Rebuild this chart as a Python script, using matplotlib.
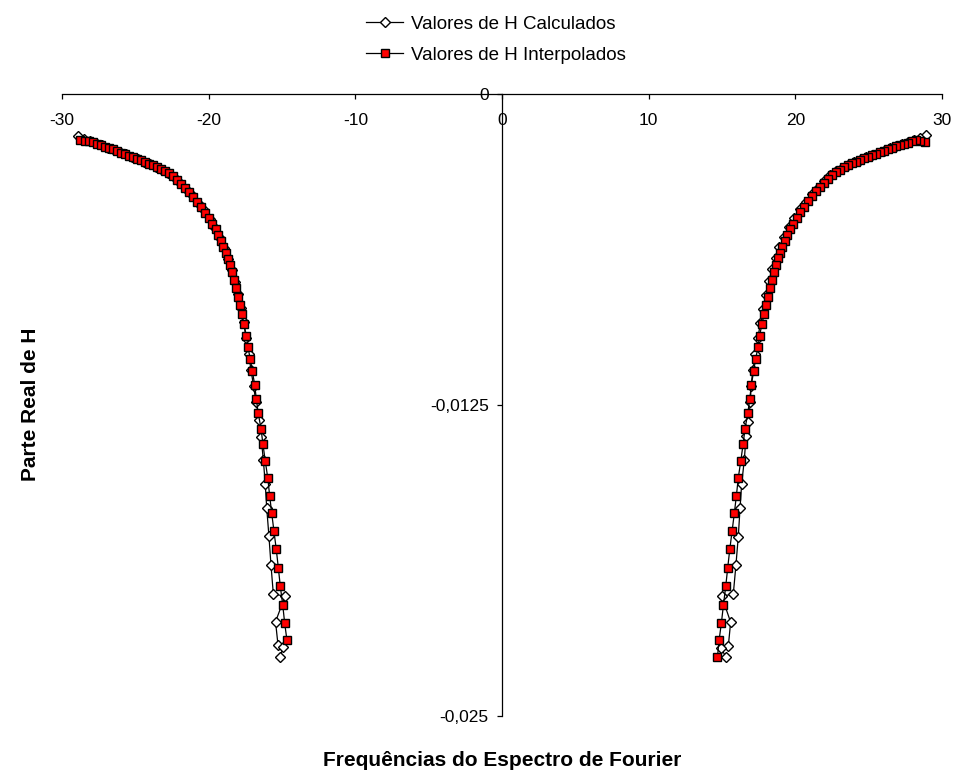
import matplotlib.pyplot as plt

plt.rcParams['font.family'] = ['Liberation Sans', 'DejaVu Sans']
plt.rcParams['axes.unicode_minus'] = False

# Valores de H Calculados (diamantes) - lado negativo e positivo
calc_neg_x = [-28.91, -28.50, -28.09, -27.68, -27.27, -26.86, -26.45, -26.04, -25.63, -25.23,
              -24.82, -24.41, -24.00, -23.59, -23.18, -22.77, -22.36, -21.95, -21.54, -21.13,
              -20.72, -20.32, -19.91, -19.57, -19.23, -18.92, -18.65, -18.41, -18.20, -18.00,
              -17.80, -17.62, -17.45, -17.28, -17.11, -16.94, -16.77, -16.55, -16.43, -16.27,
              -16.14, -16.04, -15.89, -15.75, -15.59, -14.79, -15.44, -15.27, -14.93, -15.12]
calc_neg_y = [-1.688, -1.800, -1.885, -1.965, -2.060, -2.150, -2.250, -2.345, -2.430, -2.525,
              -2.625, -2.720, -2.820, -2.925, -3.040, -3.180, -3.330, -3.560, -3.810, -4.070,
              -4.370, -4.670, -5.030, -5.390, -5.790, -6.190, -6.632, -7.074, -7.556, -8.039,
              -8.601, -9.164, -9.807, -10.45, -11.09, -11.74, -12.38, -13.10, -13.77, -14.71,
              -15.69, -16.65, -17.77, -18.93, -20.10, -20.18, -21.21, -22.15, -22.23, -22.63]

calc_pos_x = [28.91, 28.50, 28.09, 27.68, 27.27, 26.86, 26.45, 26.05, 25.64, 25.23,
              24.82, 24.41, 24.00, 23.59, 23.18, 22.77, 22.36, 21.95, 21.54, 21.14,
              20.73, 20.32, 19.91, 19.57, 19.23, 18.92, 18.65, 18.41, 18.20, 18.00,
              17.80, 17.62, 17.45, 17.28, 17.11, 16.98, 16.94, 16.79, 16.64, 16.52,
              16.34, 16.23, 16.11, 15.95, 15.77, 14.98, 15.59, 15.43, 14.90, 15.27]
calc_pos_y = [-1.65, -1.78, -1.86, -1.92, -1.99, -2.08, -2.17, -2.27, -2.36, -2.46,
              -2.55, -2.65, -2.75, -2.86, -2.97, -3.10, -3.26, -3.50, -3.76, -4.03,
              -4.32, -4.62, -4.98, -5.34, -5.74, -6.15, -6.59, -7.03, -7.52, -8.06,
              -8.62, -9.20, -9.80, -10.44, -11.08, -11.72, -12.38, -13.17, -13.75, -14.71,
              -15.68, -16.65, -17.79, -18.93, -20.10, -20.18, -21.23, -22.19, -22.25, -22.62]

# Valores de H Interpolados (quadrados)
interp_neg_x = [-28.77, -28.43, -28.16, -27.89, -27.61, -27.34, -27.07, -26.79, -26.52, -26.25,
                -25.98, -25.70, -25.43, -25.16, -24.89, -24.61, -24.34, -24.07, -23.80, -23.52,
                -23.25, -22.98, -22.70, -22.43, -22.16, -21.89, -21.61, -21.34, -21.07, -20.80,
                -20.52, -20.25, -19.98, -19.74, -19.53, -19.33, -19.16, -18.99, -18.82, -18.66,
                -18.52, -18.41, -18.27, -18.16, -18.02, -17.88, -17.75, -17.59, -17.43, -17.32,
                -17.16, -17.02, -16.86, -16.75, -16.62, -16.43, -16.30, -16.14, -15.97, -15.84,
                -15.70, -15.55, -15.39, -15.25, -15.12, -14.95, -14.82, -14.66]
interp_neg_y = [-1.849, -1.869, -1.897, -1.941, -1.994, -2.050, -2.110, -2.162, -2.223, -2.291,
                -2.355, -2.420, -2.480, -2.540, -2.605, -2.665, -2.725, -2.793, -2.862, -2.934,
                -3.002, -3.095, -3.175, -3.276, -3.436, -3.597, -3.758, -3.939, -4.120, -4.321,
                -4.542, -4.763, -4.984, -5.205, -5.426, -5.667, -5.888, -6.129, -6.371, -6.612,
                -6.873, -7.142, -7.476, -7.810, -8.147, -8.481, -8.842, -9.256, -9.715, -10.18,
                -10.66, -11.13, -11.70, -12.26, -12.83, -13.45, -14.07, -14.75, -15.43, -16.15,
                -16.85, -17.56, -18.30, -19.04, -19.76, -20.53, -21.25, -21.96]

interp_pos_x = [28.84, 28.50, 28.22, 27.95, 27.68, 27.41, 27.13, 26.86, 26.59, 26.32,
                26.04, 25.77, 25.50, 25.23, 24.95, 24.68, 24.41, 24.14, 23.87, 23.59,
                23.32, 23.05, 22.78, 22.51, 22.24, 21.97, 21.70, 21.43, 21.16, 20.89,
                20.62, 20.35, 20.09, 19.86, 19.65, 19.45, 19.28, 19.12, 18.95, 18.79,
                18.65, 18.54, 18.40, 18.29, 18.15, 18.01, 17.88, 17.72, 17.56, 17.45,
                17.29, 17.16, 17.00, 16.89, 16.76, 16.57, 16.44, 16.28, 16.11, 15.98,
                15.84, 15.69, 15.53, 15.39, 15.26, 15.10, 14.96, 14.80, 14.69]
interp_pos_y = [-1.93, -1.87, -1.86, -1.90, -1.95, -2.00, -2.05, -2.10, -2.16, -2.22,
                -2.28, -2.34, -2.40, -2.46, -2.52, -2.58, -2.65, -2.72, -2.79, -2.87,
                -2.95, -3.04, -3.14, -3.25, -3.40, -3.56, -3.73, -3.91, -4.10, -4.31,
                -4.53, -4.76, -4.99, -5.21, -5.43, -5.67, -5.89, -6.13, -6.37, -6.61,
                -6.87, -7.14, -7.48, -7.81, -8.15, -8.48, -8.84, -9.26, -9.72, -10.18,
                -10.66, -11.13, -11.70, -12.26, -12.83, -13.45, -14.07, -14.75, -15.43, -16.15,
                -16.85, -17.56, -18.30, -19.04, -19.76, -20.53, -21.25, -21.96, -22.64]

x_ticks = [-30, -20, -10, 0, 10, 20, 30]
y_ticks = [0, -0.0125, -0.025]
y_tick_labels = ['0', '-0,0125', '-0,025']

fig = plt.figure(figsize=(9.58, 7.74), dpi=100)
ax = fig.add_axes([0.0647, 0.0749, 0.9186, 0.8036])

calc_style = dict(color='black', lw=0.9, marker='D', ms=4.8, mfc='white', mec='black', mew=1.0)
interp_style = dict(color='black', lw=0.9, marker='s', ms=6.3, mfc='#FF0000', mec='black', mew=1.0)

ax.plot(calc_neg_x, [v / 1000 for v in calc_neg_y], label='Valores de H Calculados', zorder=3, **calc_style)
ax.plot(calc_pos_x, [v / 1000 for v in calc_pos_y], zorder=3, **calc_style)
ax.plot(interp_neg_x, [v / 1000 for v in interp_neg_y], label='Valores de H Interpolados', zorder=4, **interp_style)
ax.plot(interp_pos_x, [v / 1000 for v in interp_pos_y], zorder=4, **interp_style)

ax.set_xlim(-30, 30)
ax.set_ylim(-0.025, 0)

# eixos cruzando no zero
ax.spines['bottom'].set_position(('data', 0))
ax.spines['left'].set_position(('data', 0))
ax.spines['top'].set_visible(False)
ax.spines['right'].set_visible(False)
for s in ['bottom', 'left']:
    ax.spines[s].set_linewidth(0.9)
    ax.spines[s].set_zorder(1)

ax.set_xticks(x_ticks)
ax.set_yticks(y_ticks)
ax.set_yticklabels(y_tick_labels)
ax.tick_params(direction='out', length=3.6, width=0.9, labelsize=12.5)
ax.tick_params(axis='x', pad=10)
ax.tick_params(axis='y', pad=6)
ax.set_facecolor('none')

fig.text(0.524, 0.018, 'Frequências do Espectro de Fourier', ha='center', va='center',
         fontsize=15, fontweight='bold')
fig.text(0.032, 0.477, 'Parte Real de H', ha='center', va='center', rotation=90,
         fontsize=15, fontweight='bold')

fig.legend(loc='upper left', bbox_to_anchor=(0.382, 0.980), frameon=False, fontsize=13.5,
           handlelength=2.0, labelspacing=0.75, handletextpad=0.4, borderpad=0, borderaxespad=0)

plt.savefig('out.png', dpi=100)
